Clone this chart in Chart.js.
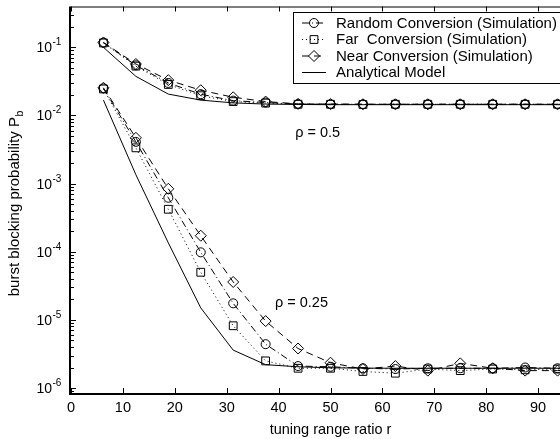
<!DOCTYPE html>
<html>
<head>
<meta charset="utf-8">
<script src="https://cdn.jsdelivr.net/npm/chart.js@4.4.0/dist/chart.umd.min.js"></script>
<style>
  html, body { margin: 0; padding: 0; background: #fff; overflow: hidden; }
  #wrap { width: 560px; height: 439px; overflow: hidden; }
  canvas { display: block; }
</style>
</head>
<body>
<div id="wrap"><canvas id="blockingChart" width="620" height="439"></canvas></div>
<script>
// tuning range ratio r (x values)
const tuningRatio = [6.25, 12.5, 18.75, 25, 31.25, 37.5, 43.75, 50, 56.25, 62.5, 68.75, 75, 81.25, 87.5, 93.75, 100];

// rho = 0.5
const randomHigh   = [0.117, 0.0545, 0.0300, 0.0205, 0.0165, 0.0155, 0.0147, 0.0146, 0.0146, 0.0146, 0.0146, 0.0146, 0.0146, 0.0146, 0.0146, 0.0146];
const farHigh      = [0.116, 0.0530, 0.0285, 0.0195, 0.0160, 0.0152, 0.0146, 0.0146, 0.0145, 0.0146, 0.0146, 0.0146, 0.0146, 0.0146, 0.0146, 0.0146];
const nearHigh     = [0.118, 0.0570, 0.0330, 0.0235, 0.0185, 0.0160, 0.0148, 0.0147, 0.0146, 0.0146, 0.0146, 0.0146, 0.0146, 0.0146, 0.0146, 0.0146];
const analyticHigh = [0.100, 0.0375, 0.0206, 0.0168, 0.0153, 0.0147, 0.0145, 0.0144, 0.0144, 0.0144, 0.0144, 0.0144, 0.0144, 0.0144, 0.0144, 0.0144];

// rho = 0.25
const randomLow   = [0.0250, 0.0041, 6.2e-4, 9.8e-5, 1.75e-5, 4.4e-6, 2.1e-6, 2.05e-6, 1.95e-6, 1.9e-6, 1.95e-6, 1.95e-6, 1.95e-6, 2.0e-6, 1.95e-6, 1.95e-6];
const farLow      = [0.0245, 0.00335, 4.2e-4, 5.0e-5, 8.2e-6, 2.5e-6, 1.95e-6, 1.95e-6, 1.75e-6, 1.65e-6, 1.9e-6, 1.8e-6, 1.9e-6, 1.85e-6, 1.9e-6, 1.9e-6];
const nearLow     = [0.0255, 0.0047, 8.4e-4, 1.72e-4, 3.6e-5, 9.6e-6, 3.8e-6, 2.35e-6, 1.9e-6, 2.1e-6, 1.8e-6, 2.3e-6, 1.95e-6, 1.8e-6, 1.8e-6, 1.9e-6];
const analyticLow = [0.0168, 1.35e-3, 1.35e-4, 1.5e-5, 3.6e-6, 2.2e-6, 2.05e-6, 1.98e-6, 1.96e-6, 1.95e-6, 1.95e-6, 1.95e-6, 1.95e-6, 1.95e-6, 1.95e-6, 1.95e-6];

const xTicks = [0, 10, 20, 30, 40, 50, 60, 70, 80, 90, 100];
const yDecades = [1e-6, 1e-5, 1e-4, 1e-3, 1e-2, 1e-1];
const yExponents = ['-6', '-5', '-4', '-3', '-2', '-1'];

const legendLabels = ['Random Conversion (Simulation)', 'Far  Conversion (Simulation)', 'Near Conversion (Simulation)', 'Analytical Model'];
const notes = [
  { text: '\u03c1 = 0.5', x: 43.2, y: 5.6e-3 },
  { text: '\u03c1 = 0.25', x: 39.3, y: 1.77e-5 }
];

const FONT = "'Liberation Sans', Arial, Helvetica, sans-serif";

const styles = {
  random: { dash: [7, 3, 1, 3], point: 'circle', r: 4.5 },
  far: { dash: [1, 3], point: 'rect', r: 5.5 },
  near: { dash: [7, 5], point: 'rectRot', r: 5.5 },
  analytic: { dash: [], point: false, r: 0 }
};

function series(label, values, st) {
  return {
    label: label,
    data: tuningRatio.map((x, i) => ({ x: x, y: values[i] })),
    borderColor: '#000',
    borderWidth: 1,
    borderDash: st.dash,
    backgroundColor: 'transparent',
    pointStyle: st.point,
    pointRadius: st.r,
    pointBorderWidth: 1,
    pointBorderColor: '#000',
    pointBackgroundColor: 'transparent',
    tension: 0,
    fill: false
  };
}

const datasets = [
  series(legendLabels[0], randomHigh, styles.random),
  series(legendLabels[1], farHigh, styles.far),
  series(legendLabels[2], nearHigh, styles.near),
  series(legendLabels[3], analyticHigh, styles.analytic),
  series(legendLabels[0], randomLow, styles.random),
  series(legendLabels[1], farLow, styles.far),
  series(legendLabels[2], nearLow, styles.near),
  series(legendLabels[3], analyticLow, styles.analytic)
];

function seg(ctx, x1, y1, x2, y2) {
  ctx.beginPath(); ctx.moveTo(x1, y1); ctx.lineTo(x2, y2); ctx.stroke();
}

// matlab-like box, inner ticks, superscript tick labels, y title, legend, notes
const matlabAxes = {
  id: 'matlabAxes',
  afterDraw(chart) {
    const ctx = chart.ctx;
    const a = chart.chartArea;
    const x = chart.scales.x, y = chart.scales.y;
    ctx.save();
    ctx.strokeStyle = '#000';
    ctx.fillStyle = '#000';
    ctx.setLineDash([]);

    // box
    ctx.lineWidth = 1;
    seg(ctx, a.left, a.top + 0.5, a.right, a.top + 0.5);
    seg(ctx, a.right - 0.5, a.top, a.right - 0.5, a.bottom);
    ctx.lineWidth = 2;
    seg(ctx, a.left - 1, a.bottom + 1, a.right, a.bottom + 1);
    seg(ctx, a.left - 1, a.top, a.left - 1, a.bottom + 2);

    // x ticks
    ctx.lineWidth = 1;
    xTicks.forEach(v => {
      const px = Math.round(x.getPixelForValue(v)) + 0.5;
      seg(ctx, px, a.bottom, px, a.bottom - 5);
      seg(ctx, px, a.top, px, a.top + 5);
    });

    // y ticks (major + minor)
    yDecades.forEach((d, i) => {
      const py = Math.round(y.getPixelForValue(d)) + 0.5;
      seg(ctx, a.left, py, a.left + 5, py);
      seg(ctx, a.right, py, a.right - 5, py);
      for (let m = 2; m <= 9; m++) {
        const v = d * m;
        if (v > y.max) break;
        const pm = Math.round(y.getPixelForValue(v)) + 0.5;
        seg(ctx, a.left, pm, a.left + 3, pm);
        seg(ctx, a.right, pm, a.right - 3, pm);
      }
      // label 10^n
      ctx.textBaseline = 'middle';
      ctx.textAlign = 'right';
      ctx.font = '14px ' + FONT;
      ctx.fillText('10', 52, py + 1);
      ctx.textAlign = 'left';
      ctx.font = '10px ' + FONT;
      ctx.fillText(yExponents[i], 52.5, py - 5);
    });
    // minor tick below the lowest decade
    [9e-7].forEach(v => {
      if (v < y.min) return;
      const pm = Math.round(y.getPixelForValue(v)) + 0.5;
      seg(ctx, a.left, pm, a.left + 3, pm);
    });

    // y title with subscript
    ctx.save();
    ctx.translate(15, (a.top + a.bottom) / 2 + 4);
    ctx.rotate(-Math.PI / 2);
    ctx.font = '15px ' + FONT;
    const main = 'burst blocking probability P';
    const wMain = ctx.measureText(main).width;
    ctx.font = '10.5px ' + FONT;
    const wSub = ctx.measureText('b').width;
    const x0 = -(wMain + wSub) / 2;
    ctx.textAlign = 'left';
    ctx.textBaseline = 'middle';
    ctx.font = '15px ' + FONT;
    ctx.fillText(main, x0, 0);
    ctx.font = '10.5px ' + FONT;
    ctx.fillText('b', x0 + wMain + 0.5, 5);
    ctx.restore();

    // notes
    ctx.font = '14.5px ' + FONT;
    ctx.textAlign = 'left';
    ctx.textBaseline = 'middle';
    notes.forEach(n => ctx.fillText(n.text, x.getPixelForValue(n.x), y.getPixelForValue(n.y)));

    // legend
    const lx = 293, ly = 12, lw = 282, lh = 71;
    ctx.fillStyle = '#fff';
    ctx.fillRect(lx, ly, lw, lh);
    ctx.lineWidth = 1;
    ctx.strokeStyle = '#000';
    ctx.strokeRect(lx + 0.5, ly + 0.5, lw, lh);
    const rows = [23, 39.5, 56, 72.5];
    legendLabels.forEach((label, i) => {
      const ds = chart.data.datasets[i];
      const ry = rows[i];
      ctx.strokeStyle = '#000';
      ctx.lineWidth = 1;
      ctx.setLineDash(ds.borderDash);
      seg(ctx, 302, ry, 326, ry);
      ctx.setLineDash([]);
      if (ds.pointStyle) {
        ctx.fillStyle = 'rgba(0,0,0,0)';
        Chart.helpers.drawPoint(ctx, { pointStyle: ds.pointStyle, radius: ds.pointRadius, borderWidth: 1, rotation: 0 }, 314, ry);
      }
      ctx.fillStyle = '#000';
      ctx.font = '15px ' + FONT;
      ctx.textAlign = 'left';
      ctx.textBaseline = 'middle';
      ctx.fillText(label, 336, ry + 0.5);
    });
    ctx.restore();
  }
};

new Chart(document.getElementById('blockingChart').getContext('2d'), {
  type: 'line',
  data: { datasets: datasets },
  options: {
    responsive: false,
    animation: false,
    devicePixelRatio: 1,
    layout: { padding: { top: 5, right: 30, left: 0, bottom: 0 } },
    plugins: {
      legend: { display: false },
      tooltip: { enabled: false }
    },
    scales: {
      x: {
        type: 'linear',
        min: 0,
        max: 100,
        grid: { display: false, drawTicks: false },
        border: { display: false },
        ticks: {
          stepSize: 10,
          color: '#000',
          padding: 6,
          maxRotation: 0,
          font: { family: FONT, size: 14.5 }
        },
        title: {
          display: true,
          text: 'tuning range ratio r',
          color: '#000',
          padding: { top: 0, bottom: 0 },
          font: { family: FONT, size: 14.5 }
        },
        afterFit(scale) { scale.height = 46; }
      },
      y: {
        type: 'logarithmic',
        min: 8.45e-7,
        max: 0.3975,
        grid: { display: false, drawTicks: false },
        border: { display: false },
        ticks: { display: false },
        afterBuildTicks(scale) { scale.ticks = yDecades.map(v => ({ value: v })); },
        afterFit(scale) { scale.width = 71; }
      }
    }
  },
  plugins: [matlabAxes]
});
</script>
</body>
</html>
